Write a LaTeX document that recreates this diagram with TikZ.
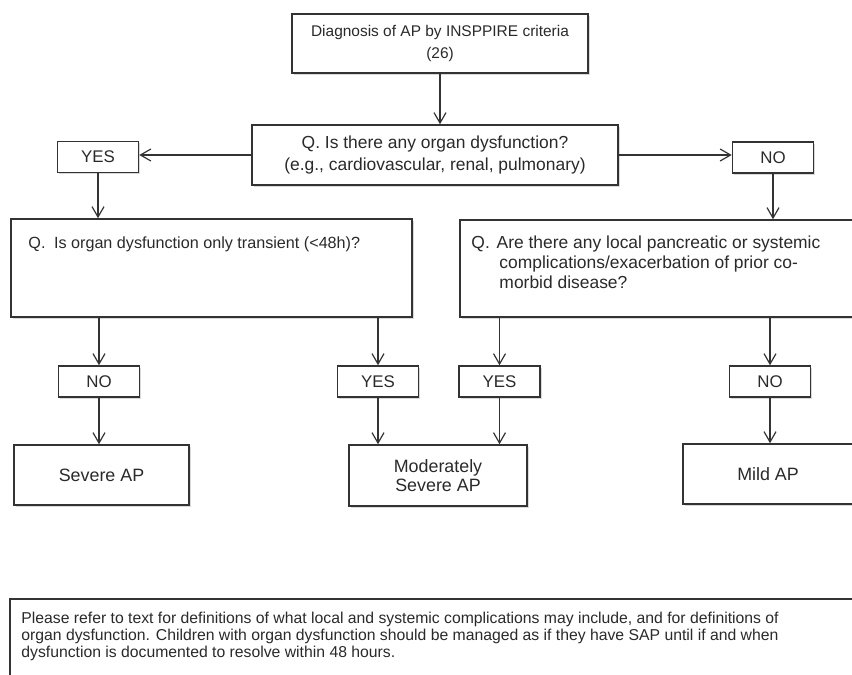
\documentclass[tikz,border=0pt]{standalone}
\usepackage{fontspec}
\setmainfont{Liberation Sans}
\usepackage{xcolor}
\usepackage{tikz}
\usetikzlibrary{positioning}
\usetikzlibrary{shadows}
\usetikzlibrary{arrows.meta}
\definecolor{lineg}{HTML}{333333}
\definecolor{textg}{HTML}{2A2A2A}
\tikzset{
    mybox/.style = {rectangle, draw=lineg, line width=1.1pt, fill=white, align=center, text=textg, inner sep=0pt, drop shadow={shadow xshift=1.3pt, shadow yshift=-1.3pt, opacity=0.3}, font=\fontsize{11.5}{15}\selectfont},
    myansw/.style = {mybox, minimum width=2.025cm, minimum height=0.775cm, font=\fontsize{12}{14}\selectfont},
    myres/.style = {mybox, minimum height=1.5cm, font=\fontsize{12.7}{13.8}\selectfont},
    mytext/.style = {align=left, inner sep=0pt, text=textg, font=\fontsize{11.5}{14.2}\selectfont},
    myarrow/.style = {draw=lineg, line width=0.85pt, -{Straight Barb[length=2.6mm,width=3mm]}},
}

\begin{document}
\begin{tikzpicture}[x=0.025cm, y=-0.025cm]
  \useasboundingbox (0,0) rectangle (852,675);
  \clip (0,0) rectangle (852,675);

  % first question
  \node[mybox, minimum width=7.4cm, minimum height=1.475cm, font=\fontsize{11}{16}\selectfont] (diag) at (440,43.5)
    {Diagnosis of AP by INSPPIRE criteria\\(26)};
  \node[mybox, minimum width=9.15cm, minimum height=1.5cm, font=\fontsize{12.4}{15.6}\selectfont] (q1) at (435,155)
    {Q. Is there any organ dysfunction?\\(e.g., cardiovascular, renal, pulmonary)};
  \node[myansw] (yes1) at (98,157) {YES};
  \node[myansw] (no1) at (773,157.5) {NO};

  % second level questions
  \node[mybox, minimum width=10.025cm, minimum height=2.45cm] (q2) at (211.5,268) {};
  \node[mytext, below right=0.45cm and 0.45cm of q2.north west] (q2txt)
    {\makebox[0.64cm][l]{Q.}Is organ dysfunction only transient (<48h)?};
  \node[mybox, minimum width=9.825cm, minimum height=2.425cm] (q3) at (656.5,268.5) {};
  \node[mytext, font=\fontsize{12.4}{14.2}\selectfont, below right=0.42cm and 0.3cm of q3.north west] (q3txt)
    {\makebox[0.63cm][l]{Q.}Are there any local pancreatic or systemic\\
     \hspace*{0.7cm}complications/exacerbation of prior co-\\
     \hspace*{0.7cm}morbid disease?};

  % answers
  \node[myansw] (no2) at (99,381.5) {NO};
  \node[myansw] (yes2) at (378,381.5) {YES};
  \node[myansw] (yes3) at (499.5,381.5) {YES};
  \node[myansw] (no3) at (770,381.5) {NO};

  % outcomes
  \node[myres, minimum width=4.375cm] (severe) at (101.5,475) {Severe AP};
  \node[myres, minimum width=4.45cm, minimum height=1.525cm] (moderate) at (438,475.5)
    {Moderately\\Severe AP};
  \node[myres, minimum width=4.25cm] (mild) at (768,474) {Mild AP};

  % footnote box
  \node[mybox, minimum width=21.75cm, minimum height=2.525cm] (note) at (445,649.5) {};
  \node[mytext, font=\fontsize{11.2}{12.4}\selectfont, below right=0.33cm and 0.3cm of note.north west] (notetxt)
    {Please refer to text for definitions of what local and systemic complications may include, and for definitions of\\
     organ dysfunction. Children with organ dysfunction should be managed as if they have SAP until if and when\\
     dysfunction is documented to resolve within 48 hours.};

  % connectors
  \draw[myarrow] (diag.south) -- (diag.south |- q1.north);
  \draw[myarrow] (q1.west) -- (q1.west -| yes1.east);
  \draw[myarrow] (q1.east) -- (q1.east -| no1.west);
  \draw[myarrow] (yes1.south) -- (yes1.south |- q2.north);
  \draw[myarrow] (no1.south) -- (no1.south |- q3.north);
  \draw[myarrow] (no2.north |- q2.south) -- (no2.north);
  \draw[myarrow] (yes2.north |- q2.south) -- (yes2.north);
  \draw[myarrow] (yes3.north |- q3.south) -- (yes3.north);
  \draw[myarrow] (no3.north |- q3.south) -- (no3.north);
  \draw[myarrow] (no2.south) -- (no2.south |- severe.north);
  \draw[myarrow] (yes2.south) -- (yes2.south |- moderate.north);
  \draw[myarrow] (yes3.south) -- (yes3.south |- moderate.north);
  \draw[myarrow] (no3.south) -- (no3.south |- mild.north);
\end{tikzpicture}
\end{document}
